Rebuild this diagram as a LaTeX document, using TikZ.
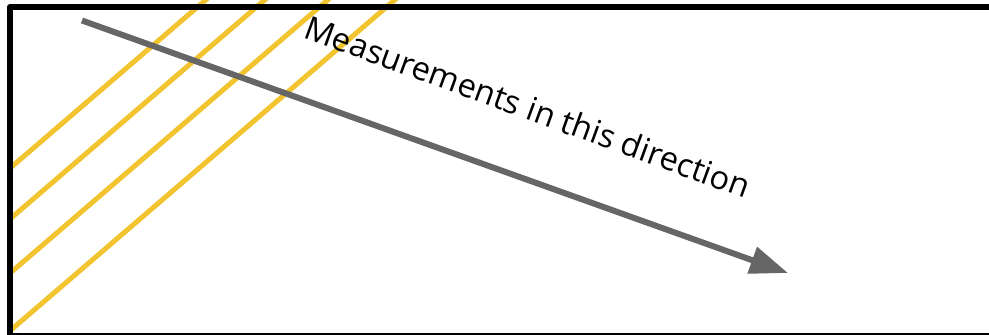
\documentclass[tikz,border=0pt]{standalone}
\usepackage{fontspec}
\setmainfont{Open Sans}
\usetikzlibrary{arrows.meta}
\definecolor{hatchyellow}{RGB}{241,196,48}
\definecolor{arrowgray}{RGB}{102,102,102}
\tikzset{
  hatchline/.style={draw=hatchyellow, line width=5pt},
  framebox/.style={draw=black, line width=6pt, line join=round},
  measurearrow/.style={draw=arrowgray, line width=6pt, -{Triangle[length=38pt,width=27pt]}},
  labeltext/.style={anchor=base west, rotate=-20, inner sep=0pt, text=black, font=\fontsize{32.6}{38}\selectfont}
}
\begin{document}
\begin{tikzpicture}[x=1pt,y=-1pt]
\useasboundingbox (0,0) rectangle (989,335);
\fill[white] (0,0) rectangle (989,335);
\begin{scope}
  \clip (10,0) rectangle (989,335);
  \foreach \xt in {194,253,316,383} {
    \draw[hatchline] (\xt,10) ++(-400,344) -- ++(420,-361.2);
  }
\end{scope}
\begin{scope}
  \clip (0,0) rectangle (989,335);
  \draw[framebox] (1000,7) -- (10,7) -- (10,336) -- (1000,336);
\end{scope}
\coordinate (arrowstart) at (82,20.5);
\coordinate (arrowend) at (788,273);
\draw[measurearrow] (arrowstart) -- (arrowend);
\node[labeltext] (label) at (302,37.5) {Measurements in this direction};
\end{tikzpicture}
\end{document}
